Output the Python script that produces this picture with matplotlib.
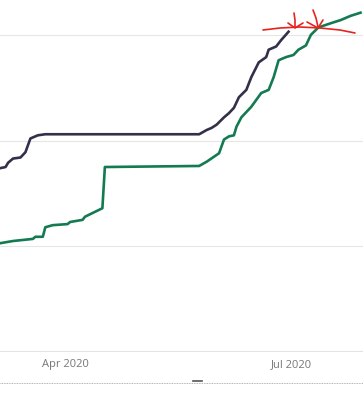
import matplotlib
matplotlib.use("Agg")
import matplotlib.pyplot as plt
from matplotlib.lines import Line2D
import pandas as pd

# series (value units: one gridline step = 1)
dark_dates = ["2020-03-06", "2020-03-08", "2020-03-09", "2020-03-11", "2020-03-14",
              "2020-03-16", "2020-03-18", "2020-03-21", "2020-03-24", "2020-05-25",
              "2020-05-28", "2020-05-30", "2020-06-01", "2020-06-04", "2020-06-06",
              "2020-06-08", "2020-06-10", "2020-06-13", "2020-06-15", "2020-06-18",
              "2020-06-21", "2020-06-22", "2020-06-25", "2020-06-27", "2020-06-30"]
dark_vals = [1.74, 1.75, 1.79, 1.83, 1.84,
             1.89, 2.02, 2.05, 2.06, 2.06,
             2.10, 2.12, 2.15, 2.22, 2.26,
             2.31, 2.41, 2.48, 2.60, 2.74,
             2.79, 2.86, 2.89, 2.95, 3.03]

green_dates = ["2020-03-06", "2020-03-11", "2020-03-19", "2020-03-20", "2020-03-23",
               "2020-03-24", "2020-03-27", "2020-04-02", "2020-04-03", "2020-04-08",
               "2020-04-09", "2020-04-16", "2020-04-17", "2020-05-25", "2020-05-28",
               "2020-06-02", "2020-06-04", "2020-06-06", "2020-06-08", "2020-06-09",
               "2020-06-11", "2020-06-15", "2020-06-19", "2020-06-22", "2020-06-24",
               "2020-06-26", "2020-06-29", "2020-07-02", "2020-07-04", "2020-07-07",
               "2020-07-09", "2020-07-12", "2020-07-17", "2020-07-21", "2020-07-25",
               "2020-07-29"]
green_vals = [1.03, 1.05, 1.07, 1.09, 1.09,
              1.18, 1.20, 1.21, 1.23, 1.25,
              1.28, 1.36, 1.75, 1.76, 1.80,
              1.88, 2.01, 2.04, 2.05, 2.13,
              2.22, 2.32, 2.45, 2.48, 2.60,
              2.76, 2.79, 2.81, 2.86, 2.90,
              3.00, 3.07, 3.11, 3.14, 3.18,
              3.21]

tick_dates = ["2020-04-01", "2020-07-01"]
tick_labels = ["Apr 2020", "Jul 2020"]

fig = plt.figure(figsize=(3.63, 4.0), dpi=100)
ax = fig.add_axes([0, 0.12, 1, 0.88])

for v in [1, 2, 3]:
    ax.axhline(v, color="#e6e6e6", lw=0.8, zorder=0)
ax.axhline(0, color="#e3e3e3", lw=1.5, zorder=0)

ax.plot(pd.to_datetime(dark_dates), dark_vals, color="#34304a", lw=1.9,
        solid_joinstyle="round", zorder=3)
ax.plot(pd.to_datetime(green_dates), green_vals, color="#137a52", lw=1.9,
        solid_joinstyle="round", zorder=3)

ax.set_xlim(pd.Timestamp("2020-03-05 18:00"), pd.Timestamp("2020-07-30"))
ax.set_ylim(0, 3.33)
ax.set_yticks([])
ax.set_xticks(pd.to_datetime(tick_dates))
ax.set_xticklabels(tick_labels, color="#777777", fontsize=8, family="Open Sans")
ax.tick_params(axis="x", length=0, pad=5)
for s in ax.spines.values():
    s.set_visible(False)

# hand-drawn red marks (pixel coords of the picture)
red_strokes = [
    [(263, 30), (280, 28), (300, 27), (320, 28), (340, 30), (355, 33)],
    [(294, 13), (295, 20), (295, 27)],
    [(288, 23), (295, 28), (303, 23)],
    [(313, 10), (316, 18), (318, 27)],
    [(307, 22), (318, 28), (323, 20)],
]
for stroke in red_strokes:
    xs = [p[0] / 363 for p in stroke]
    ys = [1 - p[1] / 400 for p in stroke]
    fig.add_artist(Line2D(xs, ys, color="#e8231f", lw=1.2, zorder=5,
                          solid_capstyle="round", solid_joinstyle="round"))

# visual border at the bottom
fig.add_artist(Line2D([0, 1], [1 - 383 / 400] * 2, color="#9a9a9a", lw=0.6,
                      linestyle=(0, (1, 1))))
fig.add_artist(Line2D([193 / 363, 202 / 363], [1 - 381 / 400] * 2, color="#555555", lw=1.2))

fig.savefig("out.png", dpi=100)
